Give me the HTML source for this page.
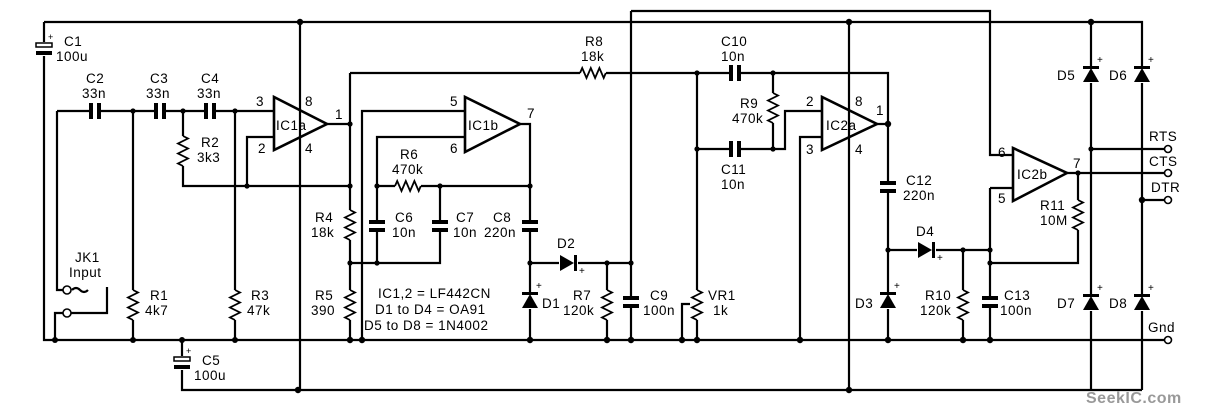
<!DOCTYPE html>
<html><head><meta charset="utf-8"><style>
html,body{margin:0;padding:0;background:#fff;}
svg{display:block}
text{font-family:"Liberation Sans",sans-serif;font-size:13.5px;fill:#000;letter-spacing:0.5px;}
</style></head><body>
<svg width="1206" height="412" viewBox="0 0 1206 412" xmlns="http://www.w3.org/2000/svg">
<defs>
<g id="rv"><rect x="-7" y="0" width="14" height="30" fill="#fff"/><path d="M0,0 l5,2.5 l-10,5 l10,5 l-10,5 l10,5 l-10,5 l5,2.5" fill="none" stroke="#000" stroke-width="1.8"/></g>
<g id="rh"><rect x="0" y="-7" width="26" height="14" fill="#fff"/><path d="M0,0 l2.2,-5 l4.3,10 l4.3,-10 l4.3,10 l4.3,-10 l4.3,10 l2.1,-5" fill="none" stroke="#000" stroke-width="1.8"/></g>
<g id="cv"><rect x="-9" y="-1" width="18" height="12" fill="#fff"/><rect x="-8" y="-1" width="16" height="4" fill="#000"/><rect x="-8" y="7" width="16" height="4" fill="#000"/></g>
<g id="ch"><rect x="-1" y="-9" width="12" height="18" fill="#fff"/><rect x="-1" y="-8" width="4" height="16" fill="#000"/><rect x="7" y="-8" width="4" height="16" fill="#000"/></g>
<g id="du"><rect x="-9" y="-1" width="18" height="17" fill="#fff"/><rect x="-8" y="-1" width="16" height="3" fill="#000"/><path d="M0,1 L-8,15 L8,15 Z" fill="#000"/><text x="6" y="-4" style="font-size:10px">+</text></g>
<g id="dr"><rect x="-1" y="-9" width="19" height="18" fill="#fff"/><path d="M0,-8 L0,8 L14,0 Z" fill="#000"/><rect x="14" y="-8" width="3" height="16" fill="#000"/><text x="19" y="11" style="font-size:10px">+</text></g>
</defs>
<g fill="none" stroke="#000" stroke-width="2.2">
<path d="M44,22 H1142 V390"/>
<path d="M44,22 V340 H1164"/>
<path d="M182,340 V390 H1142"/>
<path d="M300,22 V390"/>
<path d="M57,111 H274"/>
<path d="M57,111 V290 H63"/>
<path d="M72,290 q4,-4 8,0 q4,4 8,0"/>
<path d="M55,340 V313 H63 M71,313 H107 V287"/>
<path d="M133,111 V340 M183,111 V186 H350 M235,111 V340"/>
<path d="M274,137 H247 V186"/>
<path d="M274,97 L274,150 L327,124 Z" stroke-width="2.6"/>
<path d="M327,124 H350 M350,73 V340 M350,73 H888 V340"/>
<path d="M362,340 V111 H465"/>
<path d="M465,97 L465,152 L520,124 Z" stroke-width="2.6"/>
<path d="M465,137 H377 V263 M350,263 H440 V186 M377,186 H530"/>
<path d="M520,124 H530 V340 M530,263 H631 M607,263 V340"/>
<path d="M631,11 V340 M631,11 H990 V155 H1013"/>
<path d="M697,73 V340 M682,340 V304 H690"/>
<path d="M697,149 H773 V73 M773,149 H785 V111 H822"/>
<path d="M822,137 H800 V340"/>
<path d="M822,97 L822,150 L877,124 Z" stroke-width="2.6"/>
<path d="M877,124 H888 M849,22 V390"/>
<path d="M888,250 H990 M963,250 V340 M990,188 V340 M990,188 H1013 M990,263 H1078 V173"/>
<path d="M1013,148 L1013,201 L1067,173 Z" stroke-width="2.6"/>
<path d="M1067,173 H1164 M1091,22 V390 M1091,149 H1164 M1142,200 H1164"/>
</g>
<path d="M690,300 L697,304 L690,308 Z" fill="#000"/>
<g fill="#fff" stroke="#000" stroke-width="1.6">
<circle cx="67" cy="290" r="4"/><circle cx="67" cy="313" r="4"/>
<circle cx="1168" cy="149" r="3.5"/><circle cx="1168" cy="173" r="3.5"/><circle cx="1168" cy="200" r="3.5"/><circle cx="1168" cy="340" r="3.5"/>
</g>
<rect x="34" y="42" width="20" height="14" fill="#fff"/>
<rect x="36" y="43" width="16" height="4" fill="#fff" stroke="#000" stroke-width="1.5"/><rect x="36" y="51" width="16" height="4" fill="#000"/>
<text x="48" y="40" style="font-size:9px">+</text>
<rect x="172" y="356" width="20" height="14" fill="#fff"/>
<rect x="174" y="357" width="16" height="4" fill="#fff" stroke="#000" stroke-width="1.5"/><rect x="174" y="365" width="16" height="4" fill="#000"/>
<text x="186" y="354" style="font-size:9px">+</text>
<use href="#ch" x="90" y="111"/><use href="#ch" x="155" y="111"/><use href="#ch" x="205" y="111"/>
<use href="#cv" x="377" y="221"/><use href="#cv" x="440" y="221"/><use href="#cv" x="530" y="221"/>
<use href="#cv" x="631" y="297"/><use href="#ch" x="730" y="73"/><use href="#ch" x="730" y="149"/>
<use href="#cv" x="888" y="182"/><use href="#cv" x="990" y="297"/>
<use href="#rv" x="133" y="290"/><use href="#rv" x="183" y="136"/><use href="#rv" x="235" y="290"/>
<use href="#rv" x="350" y="210"/><use href="#rv" x="350" y="290"/><use href="#rh" x="395" y="186"/>
<use href="#rh" x="580" y="73"/><use href="#rv" x="607" y="290"/><use href="#rv" x="697" y="290"/>
<use href="#rv" x="773" y="93"/><use href="#rv" x="963" y="290"/><use href="#rv" x="1078" y="200"/>
<use href="#du" x="530" y="293"/><use href="#dr" x="560" y="263"/>
<use href="#du" x="888" y="293"/><use href="#dr" x="918" y="250"/>
<use href="#du" x="1091" y="67"/><use href="#du" x="1142" y="67"/>
<use href="#du" x="1091" y="295"/><use href="#du" x="1142" y="295"/>
<g fill="#000">
<circle cx="300" cy="22" r="3.2"/><circle cx="849" cy="22" r="3.2"/><circle cx="1091" cy="22" r="3.2"/>
<circle cx="55" cy="340" r="3"/><circle cx="133" cy="340" r="3"/><circle cx="182" cy="340" r="3"/><circle cx="235" cy="340" r="3"/>
<circle cx="350" cy="340" r="3.2"/><circle cx="362" cy="340" r="3.2"/><circle cx="530" cy="340" r="3.2"/><circle cx="607" cy="340" r="3.2"/><circle cx="631" cy="340" r="3.2"/>
<circle cx="682" cy="340" r="3.2"/><circle cx="697" cy="340" r="3.2"/><circle cx="800" cy="340" r="3.2"/><circle cx="888" cy="340" r="3.2"/><circle cx="963" cy="340" r="3.2"/><circle cx="990" cy="340" r="3.2"/>
<circle cx="298" cy="390" r="3.2"/><circle cx="849" cy="390" r="3.2"/>
<circle cx="133" cy="111" r="2.6"/><circle cx="183" cy="111" r="2.6"/><circle cx="235" cy="111" r="2.6"/>
<circle cx="247" cy="186" r="2.6"/><circle cx="350" cy="186" r="2.6"/><circle cx="350" cy="124" r="2.6"/><circle cx="350" cy="263" r="2.6"/><circle cx="377" cy="263" r="2.6"/>
<circle cx="377" cy="186" r="2.6"/><circle cx="440" cy="186" r="2.6"/><circle cx="530" cy="186" r="2.6"/>
<circle cx="530" cy="263" r="2.6"/><circle cx="607" cy="263" r="2.6"/><circle cx="631" cy="263" r="2.6"/>
<circle cx="697" cy="73" r="2.6"/><circle cx="697" cy="149" r="2.6"/><circle cx="773" cy="73" r="2.6"/><circle cx="773" cy="149" r="2.6"/>
<circle cx="888" cy="124" r="3.2"/><circle cx="888" cy="250" r="2.6"/><circle cx="963" cy="250" r="2.6"/><circle cx="990" cy="250" r="2.6"/><circle cx="990" cy="263" r="2.6"/>
<circle cx="1078" cy="173" r="2.6"/><circle cx="1091" cy="149" r="2.6"/><circle cx="1142" cy="200" r="3.2"/>
</g>
<text x="64" y="46">C1</text><text x="56" y="61">100u</text>
<text x="86" y="83">C2</text><text x="82" y="98">33n</text>
<text x="150" y="83">C3</text><text x="146" y="98">33n</text>
<text x="201" y="83">C4</text><text x="197" y="98">33n</text>
<text x="201" y="147">R2</text><text x="197" y="162">3k3</text>
<text x="75" y="262">JK1</text><text x="69" y="277">Input</text>
<text x="150" y="300">R1</text><text x="145" y="315">4k7</text>
<text x="251" y="300">R3</text><text x="247" y="315">47k</text>
<text x="202" y="365">C5</text><text x="194" y="380">100u</text>
<text x="256" y="106">3</text><text x="305" y="106">8</text><text x="335" y="119">1</text>
<text x="258" y="153">2</text><text x="305" y="153">4</text>
<text x="276" y="130">IC1a</text>
<text x="315" y="222">R4</text><text x="311" y="237">18k</text>
<text x="315" y="300">R5</text><text x="311" y="315">390</text>
<text x="450" y="106">5</text><text x="450" y="153">6</text><text x="527" y="118">7</text>
<text x="468" y="130">IC1b</text>
<text x="400" y="159">R6</text><text x="392" y="174">470k</text>
<text x="395" y="222">C6</text><text x="392" y="237">10n</text>
<text x="456" y="222">C7</text><text x="453" y="237">10n</text>
<text x="493" y="222">C8</text><text x="484" y="237">220n</text>
<text x="557" y="248">D2</text>
<text x="542" y="308">D1</text>
<text x="573" y="300">R7</text><text x="563" y="315">120k</text>
<text x="650" y="300">C9</text><text x="643" y="315">100n</text>
<text x="708" y="300">VR1</text><text x="713" y="315">1k</text>
<text x="378" y="298">IC1,2 = LF442CN</text>
<text x="375" y="314">D1 to D4 = OA91</text>
<text x="364" y="330">D5 to D8 = 1N4002</text>
<text x="585" y="46">R8</text><text x="581" y="61">18k</text>
<text x="721" y="46">C10</text><text x="721" y="61">10n</text>
<text x="740" y="108">R9</text><text x="732" y="123">470k</text>
<text x="721" y="174">C11</text><text x="721" y="189">10n</text>
<text x="806" y="106">2</text><text x="855" y="106">8</text><text x="876" y="115">1</text>
<text x="806" y="154">3</text><text x="855" y="154">4</text>
<text x="826" y="130">IC2a</text>
<text x="906" y="185">C12</text><text x="903" y="200">220n</text>
<text x="916" y="236">D4</text>
<text x="855" y="308">D3</text>
<text x="925" y="300">R10</text><text x="920" y="315">120k</text>
<text x="1004" y="300">C13</text><text x="1000" y="315">100n</text>
<text x="998" y="157">6</text><text x="998" y="203">5</text><text x="1073" y="168">7</text>
<text x="1017" y="179">IC2b</text>
<text x="1040" y="210">R11</text><text x="1040" y="225">10M</text>
<text x="1057" y="80">D5</text><text x="1109" y="80">D6</text>
<text x="1057" y="308">D7</text><text x="1109" y="308">D8</text>
<text x="1149" y="141">RTS</text><text x="1149" y="166">CTS</text><text x="1151" y="192">DTR</text><text x="1148" y="332">Gnd</text>
<text x="1086" y="403" style="font-size:16px;font-weight:bold;fill:#999">SeekIC.com</text>
</svg>
</body></html>
